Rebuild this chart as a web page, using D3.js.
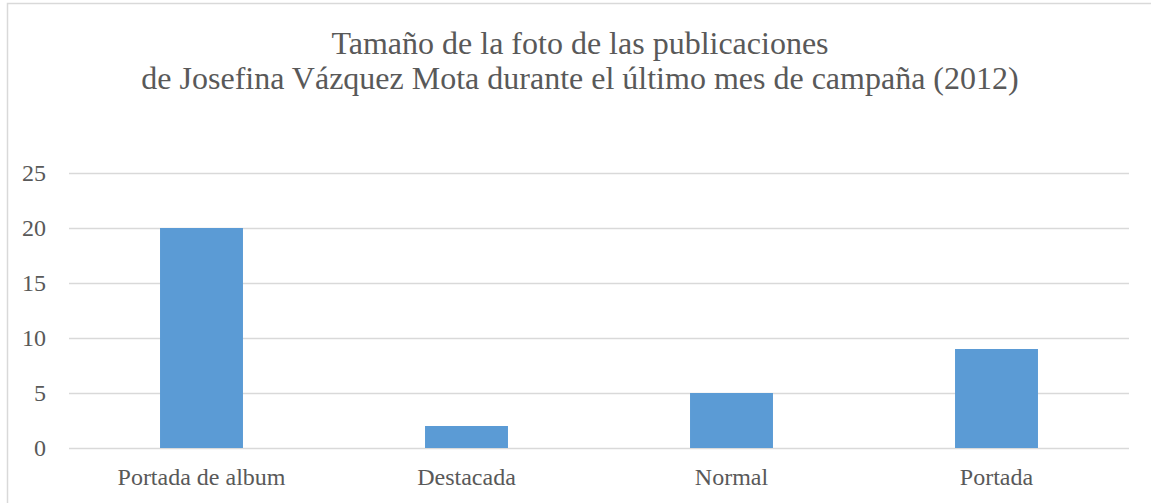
<!DOCTYPE html>
<html>
<head>
<meta charset="utf-8">
<script src="https://cdn.jsdelivr.net/npm/d3@7"></script>
<style>
  body { margin: 0; background: #fff; }
  text { font-family: "Liberation Serif", "Times New Roman", serif; fill: #595959; }
</style>
</head>
<body>
<script>
// data
const categories = ["Portada de album", "Destacada", "Normal", "Portada"];
const values = [20, 2, 5, 9];
const yTicks = [0, 5, 10, 15, 20, 25];
const titleLines = [
    "Tamaño de la foto de las publicaciones",
    "de Josefina Vázquez Mota durante el último mes de campaña (2012)"
];

const W = 1151, H = 503;
const margin = { top: 173, right: 22, bottom: 55, left: 69 },
      width = W - margin.left - margin.right,
      height = 448 - margin.top;

let svg = d3.select("body").append("svg")
    .attr("width", W)
    .attr("height", H);

// chart border (right/bottom edges fall outside the frame)
svg.append("rect")
    .attr("x", 7.5).attr("y", 3.5)
    .attr("width", W + 10).attr("height", H + 10)
    .attr("fill", "none")
    .attr("stroke", "#d9d9d9")
    .attr("stroke-width", 1.5);

// title
svg.append("text")
    .attr("x", 580)
    .attr("text-anchor", "middle")
    .style("font-size", "32px")
    .selectAll("tspan")
    .data(titleLines)
    .enter().append("tspan")
    .attr("x", 580)
    .attr("y", function (d, i) { return 54 + i * 35; })
    .text(function (d) { return d; });

let g = svg.append("g")
    .attr("transform", "translate(" + margin.left + "," + margin.top + ")");

let x = d3.scaleBand().domain(categories).range([0, width]).paddingInner(0.687).paddingOuter(0.3435);
let y = d3.scaleLinear().domain([0, 25]).range([height, 0]);

// gridlines + y labels
g.append("g")
    .call(d3.axisLeft(y).tickValues(yTicks).tickSize(-width).tickPadding(23))
    .call(function (s) {
        s.select(".domain").remove();
        s.selectAll(".tick line").attr("stroke", "#d9d9d9").attr("stroke-width", 1.5);
        s.selectAll(".tick text").style("font-size", "24px").attr("fill", "#595959");
    });

// bars
g.selectAll(".bar")
    .data(values)
    .enter().append("rect")
    .attr("class", "bar")
    .attr("x", function (d, i) { return x(categories[i]); })
    .attr("y", function (d) { return y(d); })
    .attr("width", x.bandwidth())
    .attr("height", function (d) { return height - y(d); })
    .attr("fill", "#5b9bd5");

// category labels
g.append("g")
    .attr("transform", "translate(0," + height + ")")
    .call(d3.axisBottom(x).tickSize(0).tickPadding(20))
    .call(function (s) {
        s.select(".domain").remove();
        s.selectAll(".tick text").style("font-size", "24px").attr("fill", "#595959");
    });
</script>
</body>
</html>
